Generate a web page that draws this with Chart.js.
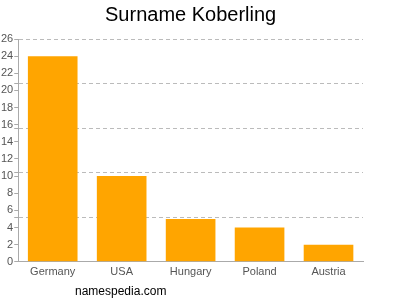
<!DOCTYPE html>
<html>
<head>
<meta charset="utf-8">
<script src="https://cdn.jsdelivr.net/npm/chart.js@4.4.1/dist/chart.umd.min.js"></script>
<style>
  body { margin: 0; background: #fff; }
  #wrap { position: relative; width: 400px; height: 300px; }
  #site { position: absolute; left: 75px; top: 284px; font: 12px "Liberation Sans", Arial, sans-serif; color: #000; }
</style>
</head>
<body>
<div id="wrap">
  <canvas id="myChart" width="400" height="300"></canvas>
  <div id="site">namespedia.com</div>
</div>
<script>
// chart data
const countries = ['Germany', 'USA', 'Hungary', 'Poland', 'Austria'];
const counts = [24, 10, 5, 4, 2];
const yLabels = [0, 2, 4, 6, 8, 10, 12, 14, 16, 18, 20, 22, 24, 26];
const gridLines = [5.2, 10.4, 15.6, 20.8, 26];

const ctx = document.getElementById('myChart');

function isGrid(v) {
    return gridLines.some(g => Math.abs(g - v) < 0.001);
}

let myChart = new Chart(ctx, {
    type: 'bar',
    data: {
        labels: countries,
        datasets: [{
            label: 'Count',
            data: counts,
            backgroundColor: '#ffa500',
            borderWidth: 0,
            barPercentage: 0.72,
            categoryPercentage: 1
        }]
    },
    options: {
        responsive: false,
        animation: false,
        layout: { padding: { left: 0, right: 37, top: 0, bottom: 17 } },
        plugins: {
            legend: { display: false },
            tooltip: { enabled: false },
            title: {
                display: true,
                fullSize: false,
                text: 'Surname Koberling',
                color: '#000',
                font: { family: 'Liberation Sans', size: 20, weight: 'normal' },
                padding: { top: 3, bottom: 12 }
            }
        },
        scales: {
            x: {
                grid: { display: false, drawTicks: false },
                border: { display: true, color: '#aaa' },
                ticks: {
                    color: '#555',
                    font: { family: 'Liberation Sans', size: 11 },
                    padding: 4
                }
            },
            y: {
                min: 0,
                max: 26,
                afterBuildTicks: function (scale) {
                    const vals = yLabels.concat(gridLines.filter(g => !yLabels.includes(g)));
                    vals.sort((a, b) => a - b);
                    scale.ticks = vals.map(v => ({ value: v }));
                },
                ticks: {
                    color: '#555',
                    font: { family: 'Liberation Sans', size: 11 },
                    padding: 1,
                    autoSkip: false,
                    callback: function (v) {
                        return yLabels.includes(v) ? String(v) : '';
                    }
                },
                grid: {
                    tickLength: 4,
                    color: function (c) {
                        return c.tick && isGrid(c.tick.value) ? '#bbb' : 'rgba(0,0,0,0)';
                    },
                    tickColor: '#aaa',
                    tickBorderDash: []
                },
                border: { display: true, color: '#aaa', dash: [4, 3] }
            }
        }
    }
});
</script>
</body>
</html>
